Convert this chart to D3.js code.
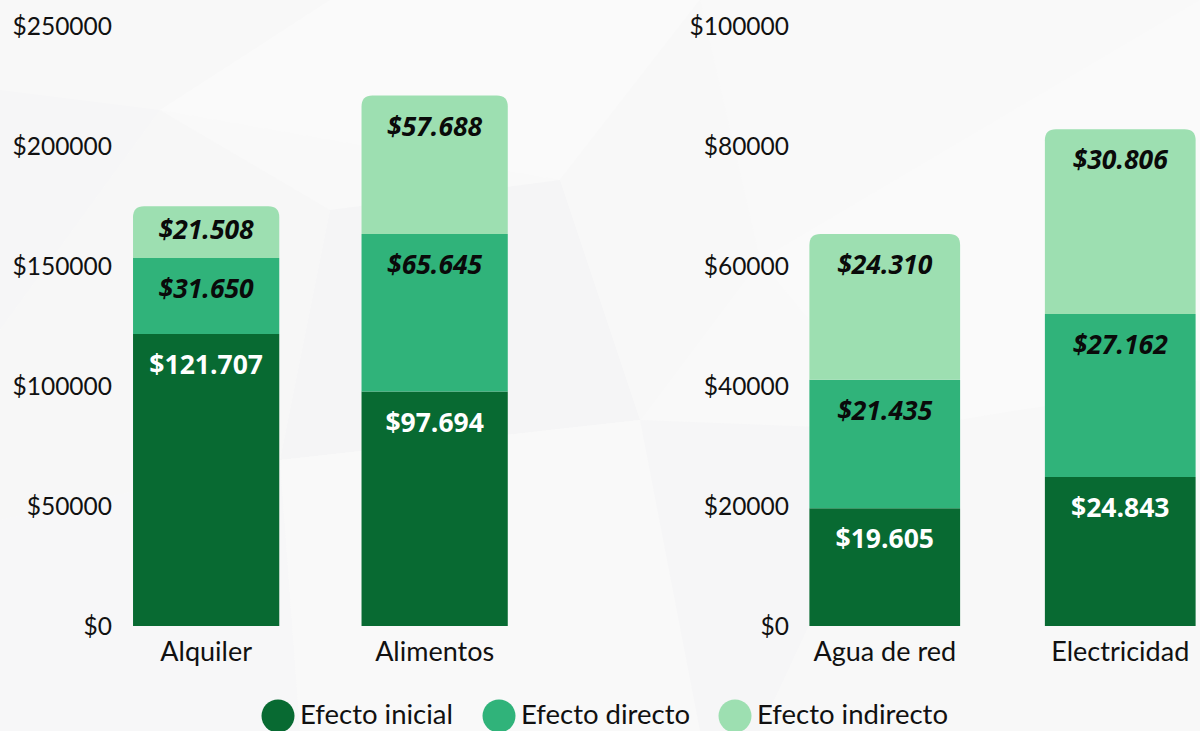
<!DOCTYPE html>
<html>
<head>
<meta charset="utf-8">
<script src="https://cdn.jsdelivr.net/npm/d3@7"></script>
<style>
  html, body { margin: 0; padding: 0; background: #f9f9f9; }
  svg { display: block; }
</style>
</head>
<body>
<svg id="chart" width="1200" height="731"></svg>
<script>
// Series order, bottom to top of each stack
const seriesNames = ["Efecto inicial", "Efecto directo", "Efecto indirecto"];
const seriesColors = ["#086a32", "#30b37a", "#9ddfb1"];

// Left panel: housing and food
const leftCategories = ["Alquiler", "Alimentos"];
const leftInicial   = [121707, 97694];
const leftDirecto   = [31650, 65645];
const leftIndirecto = [21508, 57688];
const leftTicks = [0, 50000, 100000, 150000, 200000, 250000];

// Right panel: utilities
const rightCategories = ["Agua de red", "Electricidad"];
const rightInicial   = [19605, 24843];
const rightDirecto   = [21435, 27162];
const rightIndirecto = [24310, 30806];
const rightTicks = [0, 20000, 40000, 60000, 80000, 100000];

const svg = d3.select("#chart");
const axisFont = "'Source Sans Pro', Lato, 'Noto Sans', sans-serif";
const valueFont = "'Open Sans', 'Noto Sans', sans-serif";

// Soft low-poly backdrop
const bg = svg.append("g");
const polys = [
  [[0,0],[330,0],[160,110],[0,90]],
  [[0,90],[160,110],[0,330]],
  [[330,0],[700,0],[560,180],[160,110]],
  [[0,330],[160,110],[330,210],[280,460],[0,520]],
  [[560,180],[700,0],[760,260],[640,420]],
  [[330,210],[560,180],[640,420],[280,460]],
  [[0,520],[280,460],[300,731],[0,731]],
  [[280,460],[640,420],[700,731],[300,731]],
  [[760,260],[1200,0],[1200,380],[900,430]],
  [[640,420],[900,430],[760,731],[700,731]],
  [[900,430],[1200,380],[1200,731],[760,731]]
];
const polyFills = ["#f8f8f8","#f6f6f7","#fafafa","#f7f7f7","#f8f8f8","#f5f5f6","#f7f7f8","#f9f9f9","#fafafa","#f6f6f7","#f8f8f8"];
bg.selectAll("path").data(polys).join("path")
  .attr("d", d => "M" + d.map(p => p.join(",")).join("L") + "Z")
  .attr("fill", (d, i) => polyFills[i]);

function roundedTop(x, y, w, h, r) {
  r = Math.min(r, h, w / 2);
  return `M${x},${y + h}V${y + r}Q${x},${y} ${x + r},${y}H${x + w - r}Q${x + w},${y} ${x + w},${y + r}V${y + h}Z`;
}

function panel(cfg) {
  const { categories, inicial, directo, indirecto, ticks, yMax, range, axisX } = cfg;
  const data = categories.map((c, i) => ({ cat: c, v: [inicial[i], directo[i], indirecto[i]] }));

  const x = d3.scaleBand().domain(categories).range(range)
    .paddingInner(0.36).paddingOuter(0.18);
  const y = d3.scaleLinear().domain([0, yMax]).range([626, 26]);

  // y axis labels
  const yAxis = d3.axisLeft(y).tickValues(ticks).tickSize(0).tickPadding(0)
    .tickFormat(d => "$" + d);
  const ga = svg.append("g").attr("transform", `translate(${axisX},0)`).call(yAxis);
  ga.select(".domain").remove();
  ga.selectAll("text")
    .attr("font-family", axisFont).attr("font-size", 24.5).attr("fill", "#111")
    .attr("dy", "0.35em");

  // x axis labels
  const xAxis = d3.axisBottom(x).tickSize(0).tickPadding(0);
  const gx = svg.append("g").attr("transform", `translate(0,642)`).call(xAxis);
  gx.select(".domain").remove();
  gx.selectAll("text")
    .attr("font-family", axisFont).attr("font-size", 27).attr("fill", "#111")
    .attr("dy", "0.71em");

  // stacked segments
  data.forEach(d => {
    let base = 0;
    d.v.forEach((val, s) => {
      const y0 = y(base), y1 = y(base + val);
      const bx = x(d.cat), bw = x.bandwidth();
      const isTop = s === d.v.length - 1;
      svg.append("path")
        .attr("d", isTop ? roundedTop(bx, y1, bw, y0 - y1, 11)
                         : `M${bx},${y1}H${bx + bw}V${y0}H${bx}Z`)
        .attr("fill", seriesColors[s]);
      svg.append("text")
        .attr("x", bx + bw / 2)
        .attr("y", y1 + Math.min(30, (y0 - y1) / 2 - 3))
        .attr("text-anchor", "middle")
        .attr("dominant-baseline", "central")
        .attr("font-family", valueFont)
        .attr("font-size", 26.5)
        .attr("font-weight", 700)
        .attr("font-style", s === 0 ? "normal" : "italic")
        .attr("fill", s === 0 ? "#ffffff" : "#0a0a0a")
        .text("$" + d3.format(",")(val).replace(/,/g, "."));
      base += val;
    });
  });
}

panel({
  categories: leftCategories, inicial: leftInicial, directo: leftDirecto, indirecto: leftIndirecto,
  ticks: leftTicks, yMax: 250000, range: [91.9, 548.9], axisX: 112
});
panel({
  categories: rightCategories, inicial: rightInicial, directo: rightDirecto, indirecto: rightIndirecto,
  ticks: rightTicks, yMax: 100000, range: [767, 1238], axisX: 789
});

// legend along the bottom edge
const legendX = [278, 499, 735];
const lg = svg.append("g");
seriesNames.forEach((name, i) => {
  lg.append("circle").attr("cx", legendX[i]).attr("cy", 716).attr("r", 16.5)
    .attr("fill", seriesColors[i]);
  lg.append("text").attr("x", legendX[i] + 22).attr("y", 713)
    .attr("dominant-baseline", "central")
    .attr("font-family", axisFont).attr("font-size", 27.5).attr("fill", "#111")
    .text(name);
});
</script>
</body>
</html>
